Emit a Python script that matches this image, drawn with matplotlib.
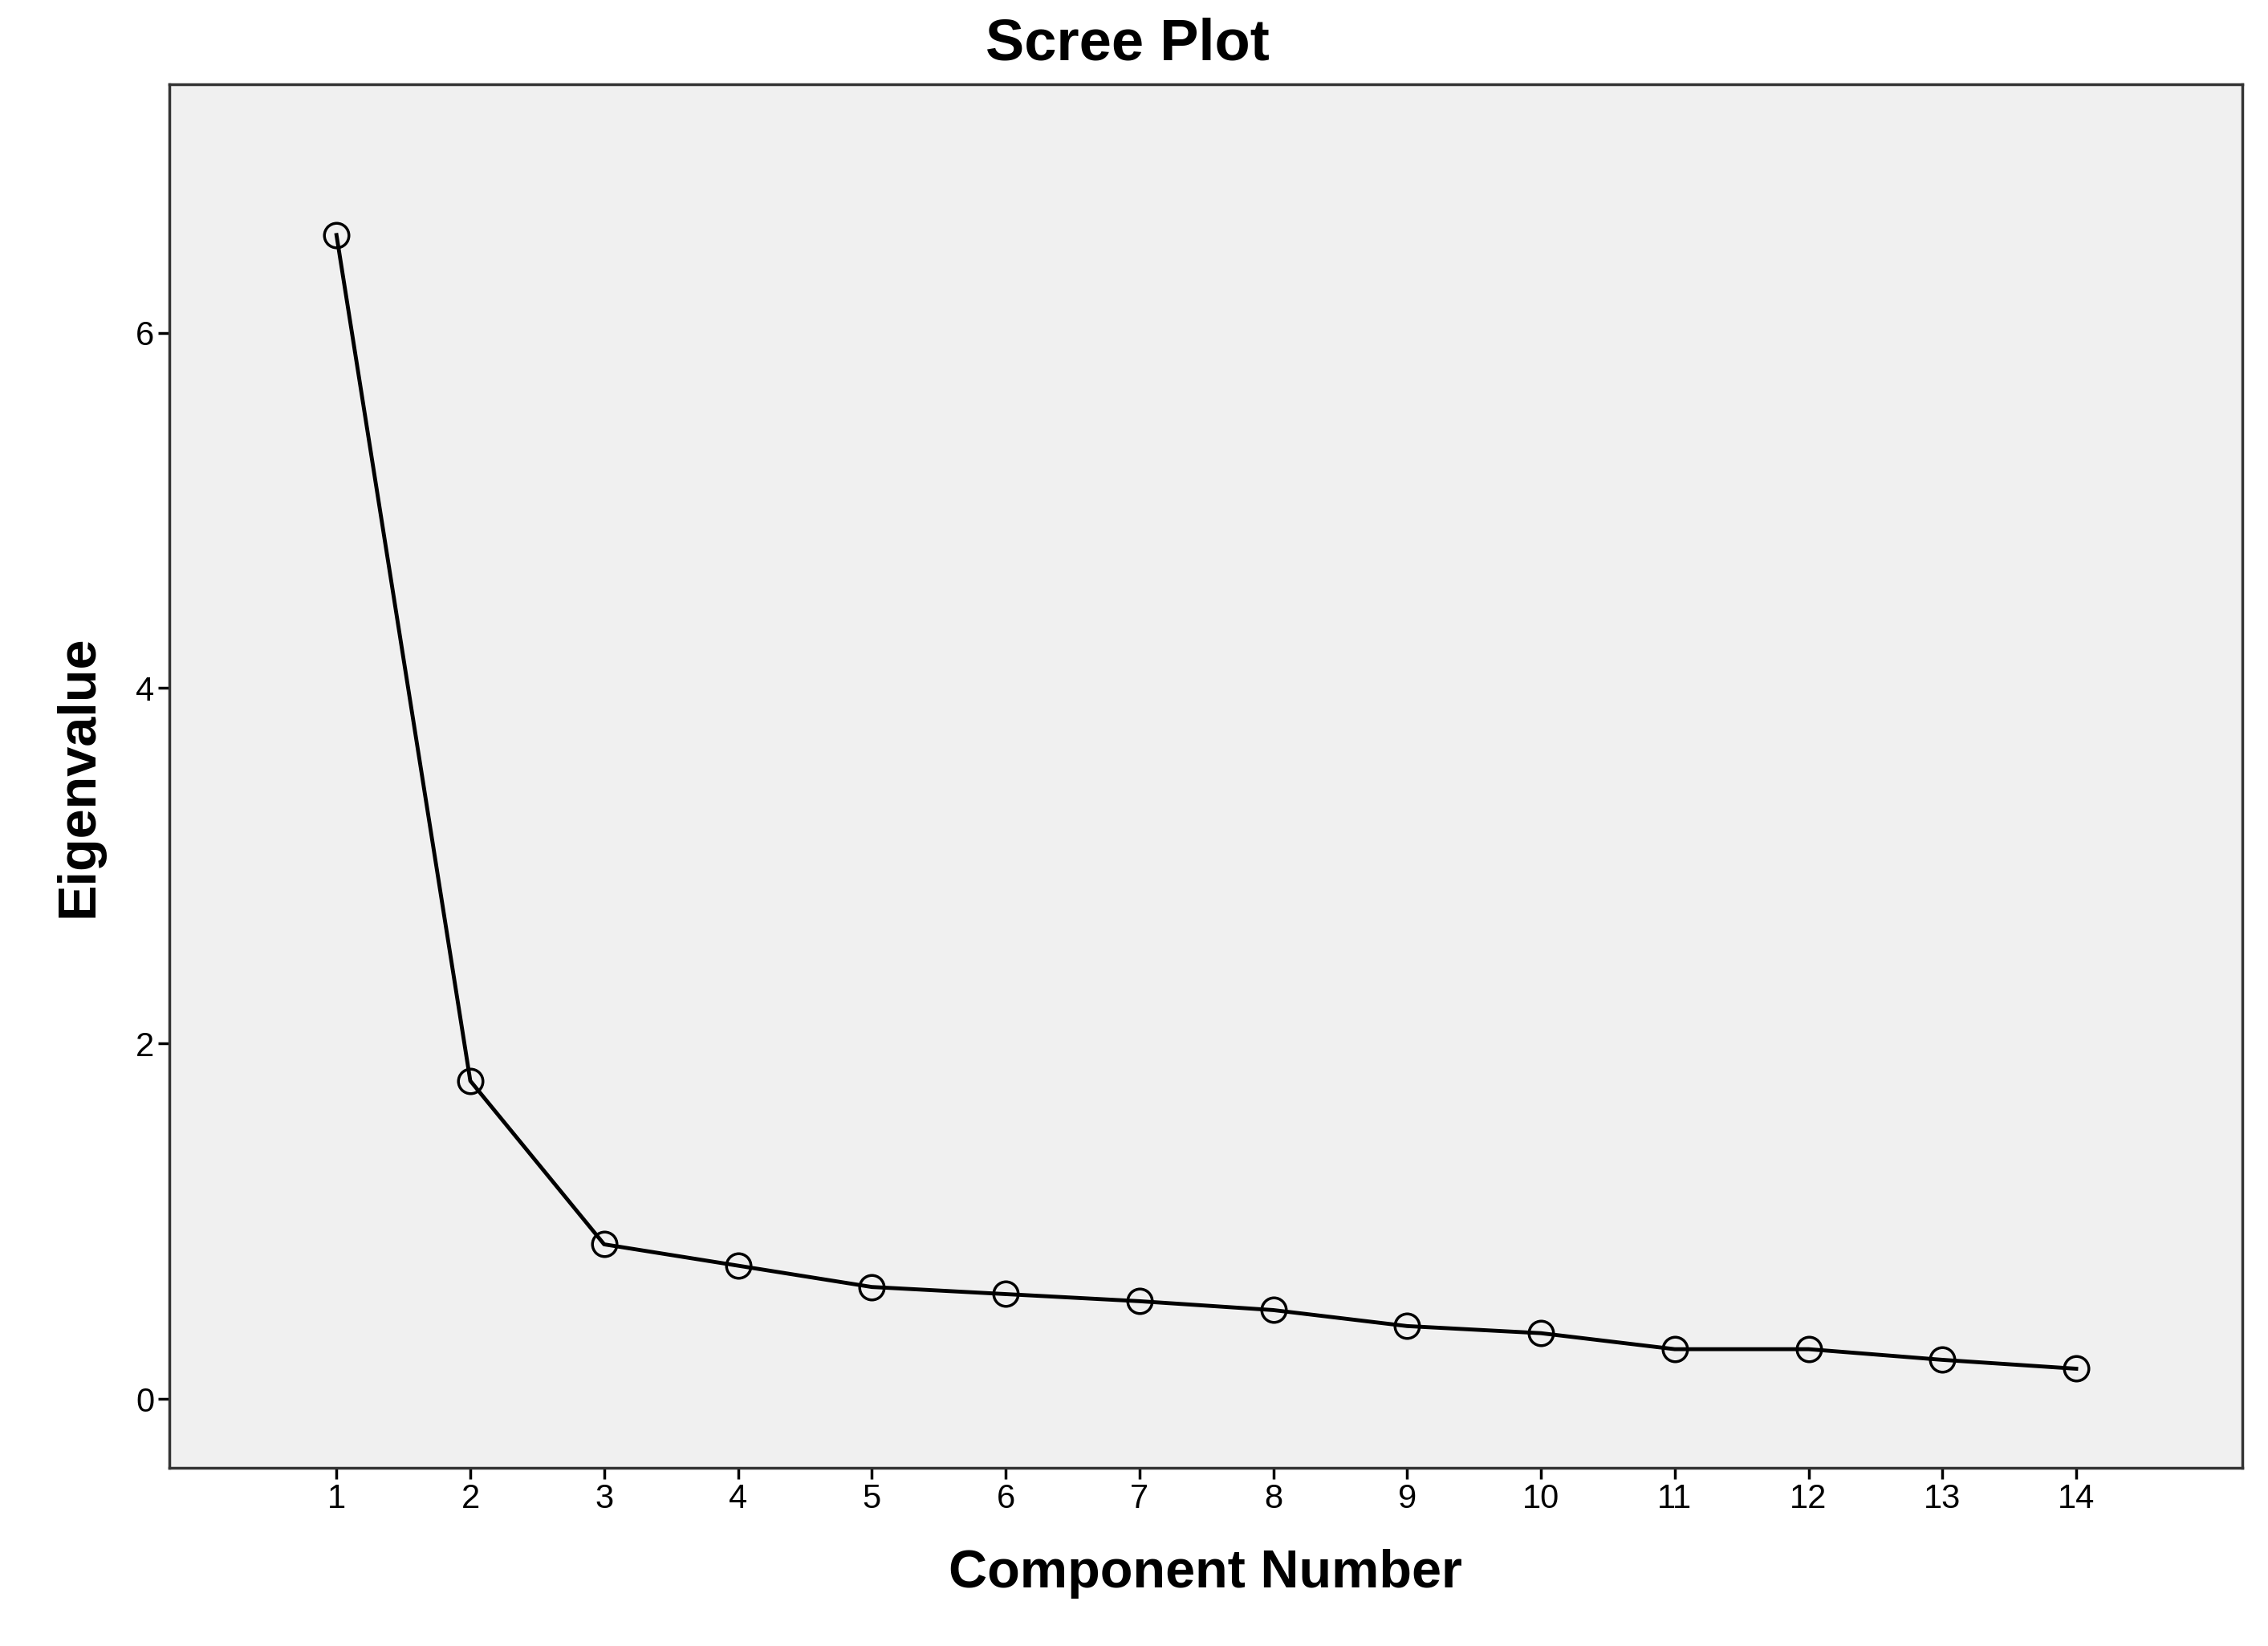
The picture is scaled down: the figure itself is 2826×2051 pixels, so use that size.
import matplotlib.pyplot as plt

components = list(range(1, 15))
eigenvalues = [6.55, 1.79, 0.87, 0.75, 0.63, 0.59, 0.55, 0.50, 0.41, 0.37, 0.28, 0.28, 0.22, 0.17]

plt.rcParams['font.family'] = ['Liberation Sans', 'DejaVu Sans']
fig = plt.figure(figsize=(28.26, 20.51), dpi=100)
ax = fig.add_axes([0.0746, 0.108, 0.914, 0.841])
ax.set_facecolor('#f0f0f0')
ax.plot(components, eigenvalues, color='black', linewidth=3.5,
        marker='o', markersize=22, markerfacecolor='none', markeredgewidth=2.5)
ax.set_xlim(-0.25, 15.24)
ax.set_ylim(-0.39, 7.40)
ax.set_xticks(components)
ax.set_yticks([0, 2, 4, 6])
ax.tick_params(labelsize=30, length=10, width=2.5)
for s in ax.spines.values():
    s.set_linewidth(2.5)
    s.set_color('#333333')
fig.text(0.497, 0.973, 'Scree Plot', fontsize=52, fontweight='bold', ha='center', va='center')
ax.set_xlabel('Component Number', fontsize=48, fontweight='bold', labelpad=30)
ax.set_ylabel('Eigenvalue', fontsize=48, fontweight='bold', labelpad=28)
fig.savefig('out.png', facecolor='white')
